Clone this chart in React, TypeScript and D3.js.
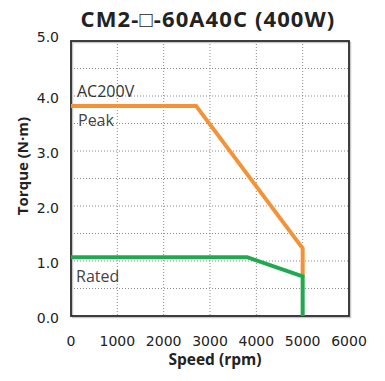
import React from "react";
import { scaleLinear, line } from "d3";

const W = 385;
const H = 381;
const margin = { left: 71, right: 36, top: 41, bottom: 65 };
const plotW = W - margin.left - margin.right;
const plotH = H - margin.top - margin.bottom;

// values
const speedTicks = [0, 1000, 2000, 3000, 4000, 5000, 6000];
const torqueTicks = [0, 1, 2, 3, 4, 5];
const gridTorque = [0.5, 1, 1.5, 2, 2.5, 3, 3.5, 4, 4.5];
const peakSpeed = [0, 2700, 5000, 5000];
const peakTorque = [3.82, 3.82, 1.23, 0.72];
const ratedSpeed = [0, 3800, 5000, 5000];
const ratedTorque = [1.07, 1.07, 0.72, 0];

const x = scaleLinear().domain([0, 6000]).range([0, plotW]);
const y = scaleLinear().domain([0, 5]).range([plotH, 0]);

function path(sp: number[], tq: number[]) {
  const pts = sp.map((s, i) => [x(s), y(tq[i])] as [number, number]);
  return line()(pts) || "";
}

const tickFont = "'DejaVu Sans', sans-serif";
const boldFont = "'Open Sans', sans-serif";

export default function App() {
  return (
    <>
      <style>{`body{margin:0}`}</style>
      <svg width={W} height={H} style={{ display: "block", background: "#fff" }}>
        <text x={208} y={27} textAnchor="middle" letterSpacing={1.1} fontFamily={boldFont} fontWeight={700} fontSize={22} fill="#222">
          CM2-□-60A40C (400W)
        </text>
        <g transform={`translate(${margin.left},${margin.top})`}>
          {/* dotted grid */}
          {speedTicks.slice(1, -1).map((s) => (
            <line key={"v" + s} x1={x(s)} x2={x(s)} y1={0} y2={plotH} stroke="#8a8a8a" strokeWidth={1} strokeDasharray="1,2" />
          ))}
          {gridTorque.map((t) => (
            <line key={"h" + t} x1={0} x2={plotW} y1={y(t)} y2={y(t)} stroke="#8a8a8a" strokeWidth={1} strokeDasharray="1,2" />
          ))}
          {/* frame shadow and frame */}
          <rect x={1.5} y={1.5} width={plotW} height={plotH} fill="none" stroke="#c8c8c8" strokeWidth={1.5} />
          <rect x={0} y={0} width={plotW} height={plotH} fill="none" stroke="#2a2a2a" strokeWidth={1.8} />

          <path d={path(peakSpeed, peakTorque)} fill="none" stroke="#f39237" strokeWidth={4} strokeLinejoin="miter" />
          <path d={path(ratedSpeed, ratedTorque)} fill="none" stroke="#1faa4f" strokeWidth={4} strokeLinejoin="miter" />

          <text x={6} y={56} fontFamily={boldFont} fontSize={16} fill="#333">AC200V</text>
          <text x={7} y={85} fontFamily={boldFont} fontSize={16} fill="#444">Peak</text>
          <text x={5} y={240.5} fontFamily={boldFont} fontSize={16} fill="#444">Rated</text>

          {torqueTicks.map((t) => (
            <text key={"yt" + t} x={-12} y={y(t) + (t === 5 ? -4 : 2.5)} dy="0.35em" textAnchor="end" fontFamily={tickFont} fontSize={14} fill="#222">
              {t.toFixed(1)}
            </text>
          ))}
          {speedTicks.map((s) => (
            <text key={"xt" + s} x={x(s)} y={plotH + 29.5} textAnchor="middle" fontFamily={tickFont} fontSize={14} fill="#222">
              {s}
            </text>
          ))}
        </g>
        <text x={215} y={365} textAnchor="middle" fontFamily={boldFont} fontWeight={700} fontSize={15.5} fill="#222">
          Speed (rpm)
        </text>
        <text transform="translate(28,166) rotate(-90)" textAnchor="middle" fontFamily={boldFont} fontWeight={700} fontSize={15} fill="#222">
          Torque (N·m)
        </text>
      </svg>
    </>
  );
}
